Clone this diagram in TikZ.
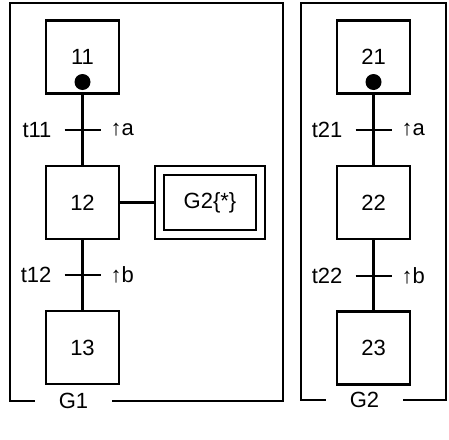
\documentclass[tikz,border=0pt]{standalone}
\usepackage{fontspec}
\setmainfont{Liberation Sans}
\begin{document}
\begin{tikzpicture}[x=1pt,y=-1pt,line width=2.1pt,font=\fontsize{22}{26}\selectfont,
    stepbox/.style={rectangle,draw,inner sep=0pt,minimum width=73pt,minimum height=73pt},
    token/.style={circle,fill,inner sep=0pt,minimum size=16pt},
    lbl/.style={inner sep=0pt}]
    \useasboundingbox (0,0) rectangle (449,439);
    % G1
    \node(11)[stepbox] at (82.5,57){11};
    \node(12)[stepbox] at (82.5,202.5){12};
    \node(13)[stepbox] at (82.5,347.5){13};
    \node(d11)[token] at (82.5,82){};
    \node(m12)[rectangle,draw,inner sep=0pt,minimum width=110pt,minimum height=73pt] at (210,202.5){};
    \node(g2)[rectangle,draw,inner sep=0pt,minimum width=92pt,minimum height=55pt] at (210,202.5){G2\{*\}};
    \coordinate(t11) at (82.5,130);
    \coordinate(t12) at (82.5,275);
    \draw (11) -- (12);
    \draw (12) -- (13);
    \draw (12) -- (m12);
    \draw ([xshift=-18pt]t11) -- ([xshift=18pt]t11);
    \draw ([xshift=-18pt]t12) -- ([xshift=18pt]t12);
    \node[lbl,anchor=east] at ([xshift=-30pt]t11){t11};
    \node[lbl,anchor=west] at ([xshift=27pt]t11){↑a};
    \node[lbl,anchor=east] at ([xshift=-30pt]t12){t12};
    \node[lbl,anchor=west] at ([xshift=27pt]t12){↑b};
    \node(G1)[inner xsep=23pt] at (73.5,401){G1};
    \draw (G1.west) -- (10,401) -- (10,3) -- (283,3) -- (283,401) -- (G1.east);
    % G2
    \node(21)[stepbox] at (373.5,57){21};
    \node(22)[stepbox] at (373.5,202.5){22};
    \node(23)[stepbox] at (373.5,348){23};
    \node(d21)[token] at (373.5,82){};
    \coordinate(t21) at (373.5,130);
    \coordinate(t22) at (373.5,276);
    \draw (21) -- (22);
    \draw (22) -- (23);
    \draw ([xshift=-18pt]t21) -- ([xshift=18pt]t21);
    \draw ([xshift=-18pt]t22) -- ([xshift=18pt]t22);
    \node[lbl,anchor=east] at ([xshift=-30pt]t21){t21};
    \node[lbl,anchor=west] at ([xshift=27pt]t21){↑a};
    \node[lbl,anchor=east] at ([xshift=-30pt]t22){t22};
    \node[lbl,anchor=west] at ([xshift=27pt]t22){↑b};
    \node(G2)[inner xsep=23pt] at (364.5,400){G2};
    \draw (G2.west) -- (301,400) -- (301,3) -- (446,3) -- (446,400) -- (G2.east);
\end{tikzpicture}
\end{document}
